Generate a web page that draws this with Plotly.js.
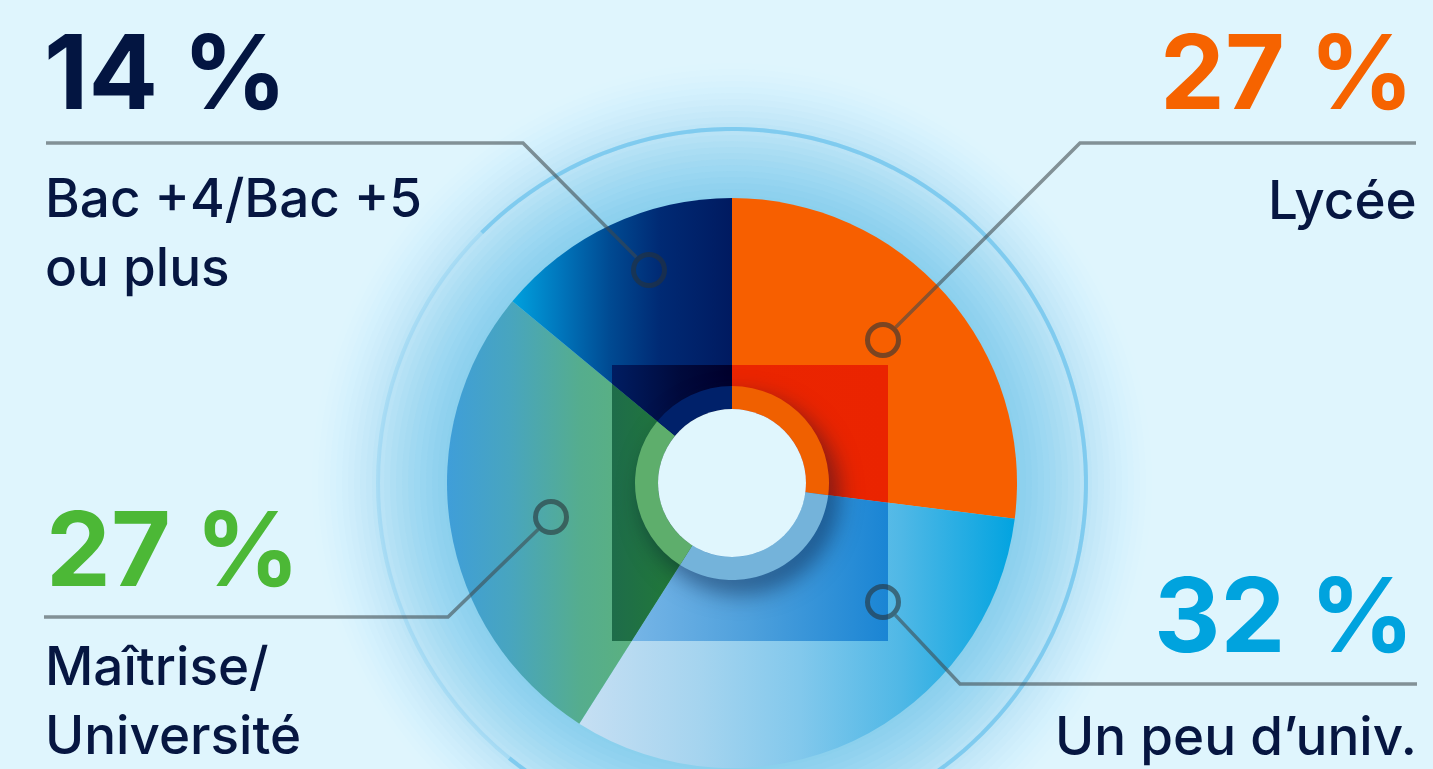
<!DOCTYPE html>
<html><head><meta charset="utf-8">
<script src="https://cdn.plot.ly/plotly-3.0.1.min.js"></script>
<style>html,body{margin:0;padding:0;background:#dff5fd;overflow:hidden}#chart{width:1433px;height:769px}</style>
</head><body><div id="chart"></div>
<script>
// ---------------- data ----------------
const categories = ['Lycée', 'Un peu d’univ.', 'Maîtrise/Université', 'Bac +4/Bac +5 ou plus'];
const labelTexts = ['Lycée', 'Un peu d’univ.', 'Maîtrise/<br>Université', 'Bac +4/Bac +5<br>ou plus'];
const values = [27, 32, 27, 14];
const percentLabels = values.map(v => v + ' %');

// ---------------- styles ----------------
const percentColors = ['#f66300', '#00a3de', '#4cb836', '#031541'];
const baseColors = ['#f75f00', '#7fc6eb', '#4ea8a8', '#00407f'];
const darkColors = ['#ec2500', '#4ea0dc', '#217636', '#000c40'];
const ringColors = ['#f06000', '#74b3da', '#5eae6c', '#00216a'];
const mainGradients = [
  [[447, '#f75f00'], [1017, '#f75f00']],
  [[579, '#c6dff3'], [700, '#a5d4ef'], [800, '#82c8ec'], [900, '#50b8e6'], [1017, '#00a3e0']],
  [[447, '#3f9ed9'], [510, '#48a5bf'], [580, '#55ad8e'], [650, '#5db27a'], [732, '#60b372']],
  [[510, '#00a3e0'], [560, '#0076bc'], [610, '#004a92'], [660, '#002a74'], [732, '#001a60']]
];
const darkGradients = [
  [[612, '#ec2600'], [888, '#ea2400']],
  [[612, '#7cb8e8'], [750, '#4ea0dc'], [888, '#1a85d4']],
  [[612, '#1e6c4a'], [700, '#237e32']],
  [[612, '#001d62'], [680, '#000a3c'], [732, '#00002c']]
];

// ---------------- geometry (pixels) ----------------
const W = 1433, H = 769;
const px = x => x / W, py = y => 1 - y / H;
const CX = 732, CY = 483, R = 285, RING = 97, HOLE = 74;
const SQ = [612, 365, 888, 641];
function dom(r) { return {x: [px(CX - r), px(CX + r)], y: [py(CY + r), py(CY - r)]}; }

const pctPos = [
  {x: 1416, y: 7, anchor: 'right'}, {x: 1416, y: 550, anchor: 'right'},
  {x: 44, y: 484, anchor: 'left'}, {x: 42, y: 7, anchor: 'left'}
];
const lblPos = [
  {x: 1419, y: 166, anchor: 'right'}, {x: 1419, y: 702, anchor: 'right'},
  {x: 43, y: 632, anchor: 'left'}, {x: 43, y: 164, anchor: 'left'}
];
const leaders = [
  {start: [1416, 143], elbow: [1080, 143], marker: [883, 340]},
  {start: [1417, 684], elbow: [960, 684], marker: [883, 602]},
  {start: [44, 617], elbow: [448, 617], marker: [551, 517]},
  {start: [46, 143], elbow: [523, 143], marker: [649, 270]}
];
const MARK_R = 15.5;

const FONT = 'Inter, "Noto Sans", sans-serif';

// ---------------- traces ----------------
const common = {type: 'pie', labels: categories, values: values, sort: false,
  direction: 'clockwise', rotation: 0, textinfo: 'none', hoverinfo: 'none'};
const data = [
  Object.assign({}, common, {domain: dom(R), marker: {colors: baseColors, line: {width: 0}}}),
  Object.assign({}, common, {domain: dom(R), marker: {colors: darkColors, line: {width: 0}}}),
  Object.assign({}, common, {domain: dom(RING), hole: HOLE / RING, marker: {colors: ringColors, line: {width: 0}}})
];

// ---------------- shapes ----------------
const shapes = [];
function circ(cx, cy, r, opts) {
  return Object.assign({type: 'circle', xref: 'paper', yref: 'paper',
    x0: px(cx - r), x1: px(cx + r), y0: py(cy + r), y1: py(cy - r)}, opts);
}
// glow
for (let r = 420; r >= 288; r -= 6) {
  const a = Math.max(0.007, (0.04 + (395 - r) * 0.00115) * 0.6);
  shapes.push(circ(CX, CY, r, {layer: 'below', fillcolor: 'rgba(112,200,236,' + a.toFixed(3) + ')', line: {width: 0}}));
}
// outer ring
shapes.push(circ(CX, CY, 354, {layer: 'below', fillcolor: 'rgba(0,0,0,0)', line: {color: 'rgba(120,200,240,0.3)', width: 4}}));
(function () {
  let d = '';
  for (let a = -45; a <= 220; a += 2) {
    const t = a * Math.PI / 180;
    const x = CX + 354 * Math.sin(t), y = CY - 354 * Math.cos(t);
    d += (d ? ' L ' : 'M ') + px(x).toFixed(5) + ',' + py(y).toFixed(5);
  }
  shapes.push({type: 'path', layer: 'below', xref: 'paper', yref: 'paper', path: d,
    line: {color: 'rgba(115,198,238,0.75)', width: 4}});
})();
// centre disc
shapes.push(circ(CX, CY, HOLE, {layer: 'above', fillcolor: '#e0f6fd', line: {width: 0}}));
// leaders
leaders.forEach(l => {
  const dx = l.marker[0] - l.elbow[0], dy = l.marker[1] - l.elbow[1];
  const len = Math.hypot(dx, dy);
  const ex = l.marker[0] - dx / len * (MARK_R + 2.5), ey = l.marker[1] - dy / len * (MARK_R + 2.5);
  shapes.push({type: 'path', layer: 'above', xref: 'paper', yref: 'paper',
    path: 'M ' + px(l.start[0]) + ',' + py(l.start[1]) + ' L ' + px(l.elbow[0]) + ',' + py(l.elbow[1]) + ' L ' + px(ex) + ',' + py(ey),
    line: {color: 'rgba(62,72,76,0.58)', width: 3.5}});
  shapes.push(circ(l.marker[0], l.marker[1], MARK_R, {layer: 'above', fillcolor: 'rgba(0,0,0,0)',
    line: {color: 'rgba(40,50,55,0.6)', width: 5}}));
});

// ---------------- annotations ----------------
const annotations = [];
categories.forEach((c, i) => {
  annotations.push({xref: 'paper', yref: 'paper', x: px(pctPos[i].x), y: py(pctPos[i].y),
    xanchor: pctPos[i].anchor, yanchor: 'top', showarrow: false, text: percentLabels[i],
    font: {family: FONT, size: 103, weight: 700, color: percentColors[i]}});
  annotations.push({xref: 'paper', yref: 'paper', x: px(lblPos[i].x), y: py(lblPos[i].y),
    xanchor: lblPos[i].anchor, yanchor: 'top', align: lblPos[i].anchor, showarrow: false, text: labelTexts[i],
    font: {family: FONT, size: 53, weight: 500, color: '#061641'}});
});

const layout = {
  width: W, height: H, autosize: false,
  margin: {l: 0, r: 0, t: 0, b: 0},
  paper_bgcolor: '#dff5fd', plot_bgcolor: 'rgba(0,0,0,0)',
  showlegend: false, shapes: shapes, annotations: annotations
};

const gd = document.getElementById('chart');
Plotly.newPlot(gd, data, layout, {staticPlot: true, displayModeBar: false}).then(function () {
  const NS = 'http://www.w3.org/2000/svg';
  const svg = gd.querySelector('svg.main-svg');
  let defs = svg.querySelector('defs');
  if (!defs) { defs = document.createElementNS(NS, 'defs'); svg.insertBefore(defs, svg.firstChild); }
  function addGrad(id, stops) {
    const g = document.createElementNS(NS, 'linearGradient');
    g.setAttribute('id', id); g.setAttribute('gradientUnits', 'userSpaceOnUse');
    const x0 = stops[0][0], x1 = stops[stops.length - 1][0];
    g.setAttribute('x1', x0); g.setAttribute('x2', x1); g.setAttribute('y1', 0); g.setAttribute('y2', 0);
    stops.forEach(s => {
      const st = document.createElementNS(NS, 'stop');
      st.setAttribute('offset', (s[0] - x0) / (x1 - x0)); st.setAttribute('stop-color', s[1]);
      g.appendChild(st);
    });
    defs.appendChild(g);
  }
  mainGradients.forEach((s, i) => addGrad('gmain' + i, s));
  darkGradients.forEach((s, i) => addGrad('gdark' + i, s));
  const cp = document.createElementNS(NS, 'clipPath');
  cp.setAttribute('id', 'sqclip');
  const rc = document.createElementNS(NS, 'rect');
  rc.setAttribute('x', SQ[0]); rc.setAttribute('y', SQ[1]);
  rc.setAttribute('width', SQ[2] - SQ[0]); rc.setAttribute('height', SQ[3] - SQ[1]);
  cp.appendChild(rc); defs.appendChild(cp);

  const traces = gd.querySelectorAll('.pielayer .trace');
  function paint(tr, prefix) {
    tr.querySelectorAll('g.slice').forEach((sl, k) => {
      const idx = (sl.__data__ && sl.__data__.i !== undefined) ? sl.__data__.i : k;
      const p = sl.querySelector('path.surface');
      if (p) p.style.fill = 'url(#' + prefix + idx + ')';
    });
  }
  if (traces[0]) paint(traces[0], 'gmain');
  if (traces[1]) { paint(traces[1], 'gdark'); traces[1].setAttribute('clip-path', 'url(#sqclip)'); }
  if (traces[2]) traces[2].style.filter = 'drop-shadow(8px 12px 12px rgba(0,15,50,0.55))';
});
</script>
</body></html>
